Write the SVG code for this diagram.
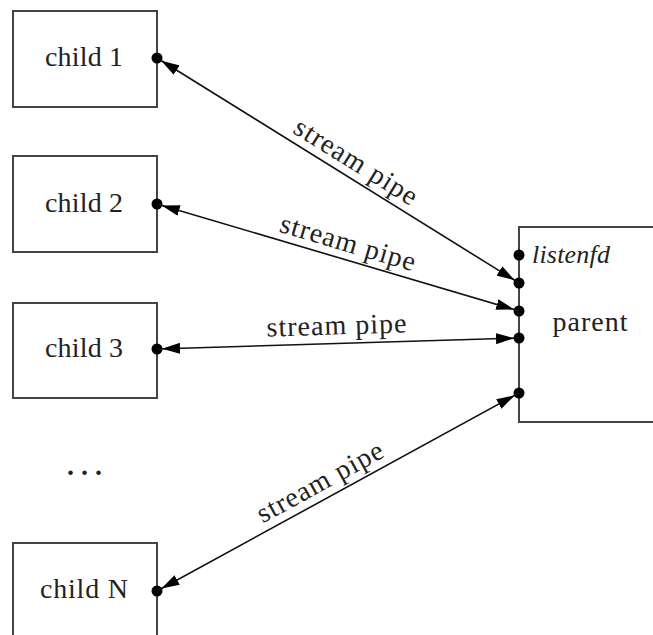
<svg xmlns="http://www.w3.org/2000/svg" width="653" height="635" viewBox="0 0 653 635">
<style>
.box{fill:#fff;stroke:#444;stroke-width:2}
.t{font-family:"Liberation Serif","Times New Roman",serif;font-size:28px;fill:#222;text-anchor:middle}
.lbl{font-family:"Liberation Serif","Times New Roman",serif;font-size:28px;fill:#222;text-anchor:middle}
.conn{stroke:#111;stroke-width:1.6;fill:none;marker-start:url(#ah);marker-end:url(#ah)}
.dot{fill:#000}
</style>
<defs>
<marker id="ah" markerUnits="userSpaceOnUse" viewBox="0 0 24 11" refX="23" refY="5.5" markerWidth="24" markerHeight="11" orient="auto-start-reverse">
<path d="M0,0 L18,5.5 L0,11 z" fill="#000"/>
</marker>
</defs>
<rect width="653" height="635" fill="#fff"/>
<g id="child1">
<rect class="box" x="13" y="11" width="144" height="96"/>
<text class="t" x="84" y="66" textLength="78">child 1</text>
<circle class="dot" cx="157" cy="58" r="5.5"/>
</g>
<g id="child2">
<rect class="box" x="13" y="156" width="144" height="96"/>
<text class="t" x="84" y="212" textLength="78">child 2</text>
<circle class="dot" cx="157" cy="204" r="5.5"/>
</g>
<g id="child3">
<rect class="box" x="13" y="303" width="144" height="95"/>
<text class="t" x="84" y="357" textLength="78">child 3</text>
<circle class="dot" cx="157" cy="349" r="5.5"/>
</g>
<g id="ellipsis">
<text class="t" x="88" y="475" letter-spacing="7" font-weight="bold">...</text>
</g>
<g id="childN">
<rect class="box" x="13" y="543" width="144" height="100"/>
<text class="t" x="84" y="598" textLength="88">child N</text>
<circle class="dot" cx="157" cy="591" r="5.5"/>
</g>
<g id="parent">
<rect class="box" x="519" y="227" width="140" height="195"/>
<text class="t" x="590" y="331" textLength="75">parent</text>
<text x="532" y="263" font-family="Liberation Serif,serif" font-style="italic" font-size="26" fill="#222" textLength="78">listenfd</text>
<circle class="dot" cx="519" cy="255" r="5.5"/>
<circle class="dot" cx="519" cy="283" r="5.5"/>
<circle class="dot" cx="519" cy="311" r="5.5"/>
<circle class="dot" cx="519" cy="338" r="5.5"/>
<circle class="dot" cx="519" cy="393" r="5.5"/>
</g>
<g id="connectors">
<line class="conn" x1="157" y1="58" x2="519" y2="283"/>
<line class="conn" x1="157" y1="204" x2="519" y2="311"/>
<line class="conn" x1="157" y1="349" x2="519" y2="338"/>
<line class="conn" x1="157" y1="591" x2="519" y2="393"/>
<text class="lbl" transform="translate(347,176) rotate(31.9)" x="0" y="-8" textLength="140">stream pipe</text>
<text class="lbl" transform="translate(343,259) rotate(16.5)" x="0" y="-8" textLength="140">stream pipe</text>
<text class="lbl" transform="translate(337,343.5) rotate(-1.7)" x="0" y="-9" textLength="140">stream pipe</text>
<text class="lbl" transform="translate(328,497) rotate(-28.7)" x="0" y="-8" textLength="140">stream pipe</text>
</g>
</svg>
